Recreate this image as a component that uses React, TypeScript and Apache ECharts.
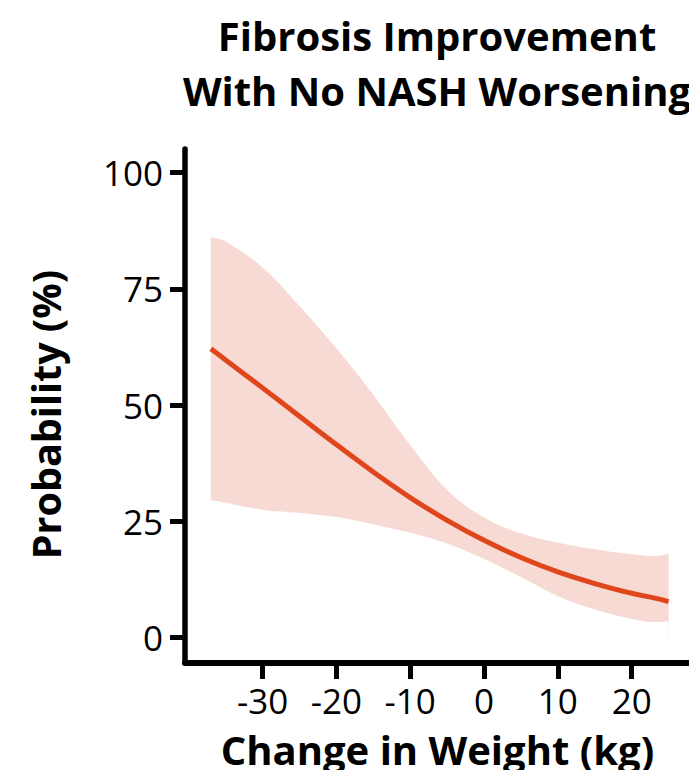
import React, { useEffect, useRef } from "react";
import * as echarts from "echarts";

const weightChange = [-37, -35, -30, -25, -20, -15, -10, -5, 0, 5, 10, 15, 20, 23, 25];
const probability = [62.1, 59.7, 53.7, 47.6, 41.5, 35.6, 30.1, 25.2, 20.9, 17.2, 14.1, 11.6, 9.5, 8.5, 7.7];
const upperCI = [86.1, 85.2, 79.6, 71.3, 62.2, 52.2, 41.4, 31.8, 25.8, 22.4, 20.4, 19.0, 17.9, 17.5, 18.0];
const lowerCI = [29.5, 29.0, 27.5, 26.8, 25.9, 24.3, 22.5, 20.2, 16.9, 13.0, 8.9, 6.0, 4.0, 3.3, 3.5];
const xTicks = [-30, -20, -10, 0, 10, 20];
const yTicks = [0, 25, 50, 75, 100];

const FONT = "Open Sans";

export default function App() {
  const ref = useRef<HTMLDivElement>(null);
  useEffect(() => {
    if (!ref.current) return;
    const chart = echarts.init(ref.current, undefined, { renderer: "svg" });
    const upperData = weightChange.map((x, i) => [x, upperCI[i]]);
    const lowerData = weightChange.map((x, i) => [x, lowerCI[i]]);
    const lineData = weightChange.map((x, i) => [x, probability[i]]);
    chart.setOption({
      animation: false,
      textStyle: { fontFamily: FONT },
      title: {
        text: "Fibrosis Improvement\nWith No NASH Worsening",
        left: 432,
        top: 3,
        textAlign: "center",
        textStyle: { fontSize: 40, fontWeight: "bold", color: "#000", lineHeight: 55, fontFamily: FONT },
      },
      graphic: [
        {
          type: "text",
          x: 46,
          y: 414.5,
          rotation: Math.PI / 2,
          style: {
            text: "Probability (%)",
            fontSize: 39.5,
            fontWeight: "bold",
            fontFamily: FONT,
            fill: "#000",
            textAlign: "center",
            textVerticalAlign: "middle",
          },
        },
      ],
      grid: { left: 185, right: 7, top: 149, bottom: 109 },
      xAxis: {
        type: "value",
        min: -40.5,
        max: 27.9,
        z: 10,
        splitLine: { show: false },
        axisLine: { show: true, onZero: false, lineStyle: { color: "#000", width: 6 } },
        axisTick: { show: true, customValues: xTicks, length: 16, lineStyle: { color: "#000", width: 5 } },
        axisLabel: { customValues: xTicks, fontSize: 35, lineHeight: 40, color: "#000", margin: 17, fontFamily: FONT },
        name: "Change in Weight (kg)",
        nameLocation: "middle",
        nameGap: 62,
        nameTextStyle: { fontSize: 40, lineHeight: 48, fontWeight: "bold", color: "#000", fontFamily: FONT },
      },
      yAxis: {
        type: "value",
        min: -5.5,
        max: 105.1,
        z: 10,
        splitLine: { show: false },
        axisLine: { show: true, onZero: false, lineStyle: { color: "#000", width: 5.5 } },
        axisTick: { show: true, customValues: yTicks, length: 15, lineStyle: { color: "#000", width: 5 } },
        axisLabel: { customValues: yTicks, fontSize: 35, color: "#000", margin: 22, fontFamily: FONT },
      },
      series: [
        {
          type: "line",
          data: upperData,
          smooth: 0.4,
          symbol: "none",
          lineStyle: { opacity: 0 },
          areaStyle: { color: "#f8dad5", opacity: 1 },
          silent: true,
        },
        {
          type: "line",
          data: lowerData,
          smooth: 0.4,
          symbol: "none",
          lineStyle: { opacity: 0 },
          areaStyle: { color: "#ffffff", opacity: 1, origin: "start" },
          silent: true,
        },
        {
          type: "line",
          data: lineData,
          smooth: 0.4,
          symbol: "none",
          lineStyle: { color: "#e0461c", width: 5 },
          z: 5,
        },
      ],
    });
    return () => chart.dispose();
  }, []);
  return <div ref={ref} style={{ width: 697, height: 778, margin: -8 }} />;
}
